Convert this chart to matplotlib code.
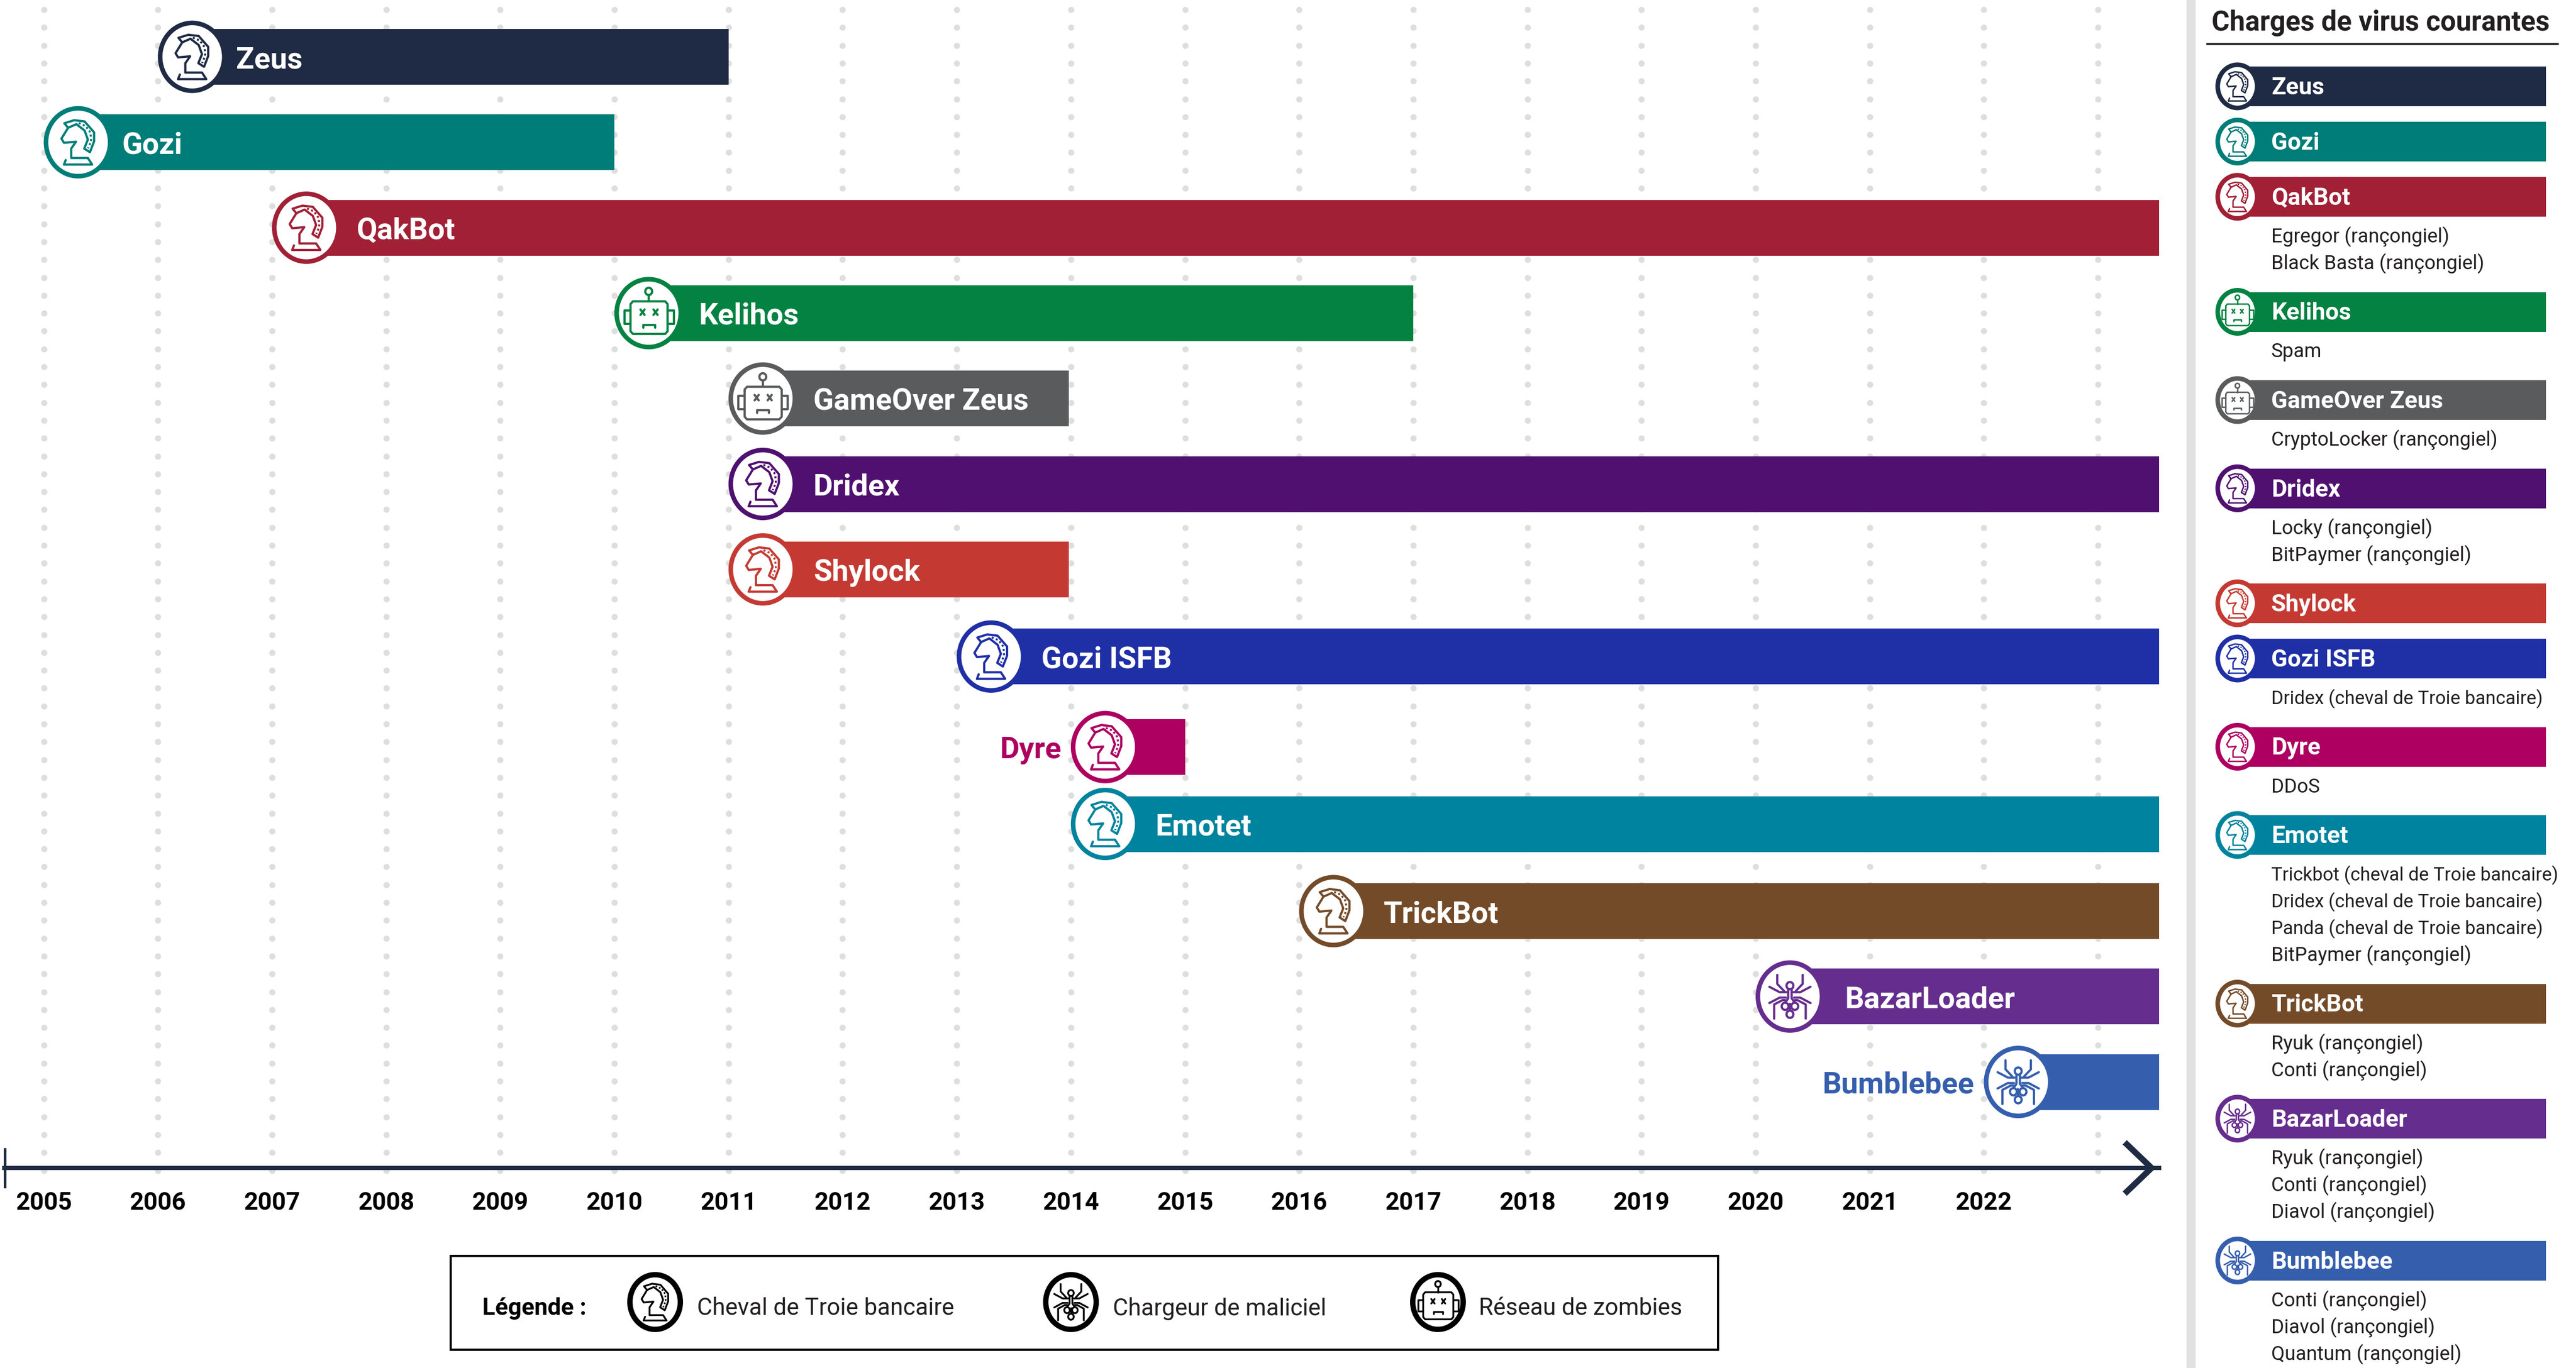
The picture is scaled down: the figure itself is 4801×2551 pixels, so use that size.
import numpy as np
import matplotlib
matplotlib.use('Agg')
import matplotlib.pyplot as plt
from matplotlib.patches import Ellipse, Rectangle

plt.rcParams['font.family'] = ['Roboto', 'DejaVu Sans']

W, H = 4801, 2551

# chart data
names = ['Zeus', 'Gozi', 'QakBot', 'Kelihos', 'GameOver Zeus', 'Dridex', 'Shylock',
         'Gozi ISFB', 'Dyre', 'Emotet', 'TrickBot', 'BazarLoader', 'Bumblebee']
start_years = [2006, 2005, 2007, 2010, 2011, 2011, 2011, 2013, 2014, 2014, 2016, 2020, 2022]
end_years = [2011, 2010, 2023.54, 2017, 2013.98, 2023.54, 2013.98, 2023.54, 2015, 2023.54, 2023.54, 2023.54, 2023.54]
kinds = ['trojan', 'trojan', 'trojan', 'botnet', 'botnet', 'trojan', 'trojan',
         'trojan', 'trojan', 'trojan', 'trojan', 'loader', 'loader']
colors = ['#1F2A44', '#007D78', '#A12035', '#038241', '#5A5B5D', '#4F1070', '#C43A33',
          '#1F2FA5', '#AD0060', '#00839E', '#744B29', '#652D8E', '#355EAD']
payloads = [
    [],
    [],
    ['Egregor (rançongiel)', 'Black Basta (rançongiel)'],
    ['Spam'],
    ['CryptoLocker (rançongiel)'],
    ['Locky (rançongiel)', 'BitPaymer (rançongiel)'],
    [],
    ['Dridex (cheval de Troie bancaire)'],
    ['DDoS'],
    ['Trickbot (cheval de Troie bancaire)', 'Dridex (cheval de Troie bancaire)',
     'Panda (cheval de Troie bancaire)', 'BitPaymer (rançongiel)'],
    ['Ryuk (rançongiel)', 'Conti (rançongiel)'],
    ['Ryuk (rançongiel)', 'Conti (rançongiel)', 'Diavol (rançongiel)'],
    ['Conti (rançongiel)', 'Diavol (rançongiel)', 'Quantum (rançongiel)'],
]
tick_years = list(range(2005, 2023))
grid_years = list(range(2005, 2024))
legend_labels = ['Cheval de Troie bancaire', 'Chargeur de maliciel', 'Réseau de zombies']
legend_kinds = ['trojan', 'loader', 'botnet']

DARK = '#1F2A44'
INK = '#231F20'
DOT = '#DDDFDD'
PX_YEAR = 212.7
RX, RY = 64, 67.5
outside_label = ['Dyre', 'Bumblebee']
label_gap = {'Zeus': 18, 'Gozi': 18, 'BazarLoader': 38}
row_shift = {'Gozi ISFB': 0.02, 'Dyre': 0.08, 'Emotet': -0.02}

# icon shapes, unit = badge radius
knight = [[(-.41, .615), (.41, .615), (.285, .435), (-.2, .435), (-.2, .175), (-.06, -.015), (-.41, .015),
           (-.485, -.10), (-.29, -.40), (-.40, -.525), (-.11, -.61), (.19, -.575), (.467, -.275),
           (.467, -.025), (.345, .275), (.18, .175), (.285, -.075), (.19, -.325), (-.05, -.5), (-.29, -.40)],
          [(-.41, .615), (-.36, .49)]]
mane = [(.02, -.53), (.22, -.45), (.36, -.27), (.38, -.03), (.29, .17)]
robot = [[(-.53, -.2), (-.53, .5), (-.46, .575), (.48, .575), (.55, .5), (.55, -.25), (.48, -.325),
          (-.46, -.325), (-.53, -.25), (-.53, -.2)],
         [(-.53, -.08), (-.71, -.08), (-.71, .3), (-.53, .3)],
         [(.55, -.08), (.73, -.08), (.73, .3), (.55, .3)],
         [(0, -.5), (0, -.325)],
         [(-.16, .4), (-.16, .33), (.18, .33), (.18, .4)],
         [(-.24, -.1), (-.12, .05)], [(-.12, -.1), (-.24, .05)],
         [(.14, -.1), (.26, .05)], [(.26, -.1), (.14, .05)]]
robot_rings = [(0, -.6, .1)]
spider = []
for s in [-1, 1]:
    spider += [[(s * .37, -.6), (s * .37, -.35), (s * .17, -.15)],
               [(s * .6, -.27), (s * .3, -.12), (s * .1, -.12)],
               [(s * .6, .18), (s * .3, .03), (s * .12, .03)],
               [(s * .46, .61), (s * .46, .22), (s * .22, .1), (s * .14, .1)],
               [(s * .05, -.2), (s * .05, .05), (s * .14, .17)]]
spider += [[(0, .2), (0, .38)]]
spider_rings = [(0, -.3, .1), (-.14, .27, .1), (.14, .27, .1), (0, .49, .1)]


def draw_badge(a, cx, cy, rx, ry, color, kind, ring=8.5):
    a.add_patch(Ellipse((cx, cy), 2 * rx - ring, 2 * ry - ring, fc='white', ec=color, lw=ring * 0.24, zorder=5))
    lw = rx * 0.065 * 0.24
    if kind == 'trojan':
        lines, rings = knight, []
    elif kind == 'botnet':
        lines, rings = robot, robot_rings
    else:
        lines, rings = spider, spider_rings
    for pts in lines:
        pts = np.array(pts)
        a.plot(cx + pts[:, 0] * rx, cy + pts[:, 1] * ry, color=color, lw=lw, zorder=6,
               solid_joinstyle='round', solid_capstyle='round')
    for x, y, rr in rings:
        a.add_patch(Ellipse((cx + x * rx, cy + y * ry), 2 * rr * rx, 2 * rr * ry, fc='white', ec=color, lw=lw, zorder=6))
    if kind == 'trojan':
        pts = np.array(mane)
        a.plot(cx + pts[:, 0] * rx, cy + pts[:, 1] * ry, color=color, lw=lw * 0.9, zorder=6,
               linestyle=(0, (1, 1.2)))


fig = plt.figure(figsize=(W / 300, H / 300), dpi=300)

# main timeline axes, bottom spine is the time arrow
ax_left, ax_right, ax_bottom = 8, 4024, 2178
ax = fig.add_axes([ax_left / W, 1 - ax_bottom / H, (ax_right - ax_left) / W, ax_bottom / H])
ax.set_xlim(2005 - (81.5 - ax_left) / PX_YEAR, 2005 + (ax_right - 81.5) / PX_YEAR)
row_first, row_pitch = 106, 159.3
ax.set_ylim((ax_bottom - row_first) / row_pitch, -row_first / row_pitch)
for sp in ['top', 'left', 'right']:
    ax.spines[sp].set_visible(False)
ax.spines['bottom'].set_linewidth(1.9)
ax.spines['bottom'].set_color(DARK)
ax.set_yticks([])
ax.set_xticks(tick_years)
ax.set_xticklabels(tick_years, fontsize=11, fontweight='bold', color='black')
ax.tick_params(axis='x', length=0, pad=10.3)

rows = np.arange(len(names)).astype(float)
for name, shift in row_shift.items():
    rows[names.index(name)] += shift
r_year = RX / PX_YEAR

# dotted year guides
dot_rows = (np.arange(18, ax_bottom + 8, 33.3) - row_first) / row_pitch
for x in grid_years:
    ax.scatter(np.full(len(dot_rows), x), dot_rows, s=2.76 ** 2, color=DOT, lw=0, zorder=1, clip_on=False)

ax.barh(rows, np.array(end_years) - np.array(start_years) - r_year,
        left=np.array(start_years) + r_year, height=104 / row_pitch, color=colors, zorder=2)

# overlay in pixels for icons, labels and the side panel
ov = fig.add_axes([0, 0, 1, 1])
ov.set_xlim(0, W)
ov.set_ylim(H, 0)
ov.axis('off')
ov.patch.set_alpha(0)

for i, name in enumerate(names):
    xd, yd = ax.transData.transform((start_years[i], rows[i]))
    cy = H - yd
    cx = xd + RX
    draw_badge(ov, cx, cy, RX, RY, colors[i], kinds[i])
    if name in outside_label:
        ov.text(xd - 18, cy + 6, name, color=colors[i], fontsize=13.4, fontweight='bold', ha='right', va='center')
    else:
        ov.text(cx + RX + label_gap.get(name, 30), cy + 6, name, color='white', fontsize=13.4, fontweight='bold',
                ha='left', va='center', zorder=7)

# arrow head and start tick of the time axis
ov.plot([ax_right - 60, ax_right - 14, ax_right - 60], [ax_bottom - 44, ax_bottom, ax_bottom + 44], color=DARK, lw=2.7,
        solid_joinstyle='miter')
ov.plot([9, 9], [ax_bottom - 35, ax_bottom + 35], color=DARK, lw=1.2)

# legend box
ov.add_patch(Rectangle((840, 2342), 2362, 175, fc='white', ec='black', lw=1, zorder=3))
ov.text(899, 2440, 'Légende :', fontsize=10.6, fontweight='bold', va='center', color='black', zorder=4)
for cx, tx, lab, kind in zip([1221, 1996, 2680], [1299, 2074, 2756], legend_labels, legend_kinds):
    draw_badge(ov, cx, 2428, 52, 56, 'black', kind, ring=10)
    ov.text(tx, 2440, lab, fontsize=10.5, va='center', color=INK, zorder=4)

# side panel
ov.add_patch(Rectangle((4075, 0), 17, H, fc='#E0E2DF', ec='none'))
ov.text(4122, 43, 'Charges de virus courantes', fontsize=12.3, fontweight='bold', va='center', color=INK)
ov.plot([4114, 4767], [81.5, 81.5], color=INK, lw=0.9)

cy = 161
for i, name in enumerate(names):
    ov.add_patch(Rectangle((4170, cy - 37), 4745 - 4170, 74, fc=colors[i], ec='none', zorder=2))
    draw_badge(ov, 4170, cy, 41, 44.5, colors[i], kinds[i])
    ov.text(4233, cy + 3, name, color='white', fontsize=10.7, fontweight='bold', va='center', zorder=7)
    for j, line in enumerate(payloads[i]):
        size = 8.3 if 'cheval' in line else 8.8
        ov.text(4233, cy + 75 + j * 50, line, color=INK, fontsize=size, va='center')
    n = len(payloads[i])
    cy += 103 if n == 0 else 164.5 + (n - 1) * 50

fig.savefig('out.png', dpi=300)
